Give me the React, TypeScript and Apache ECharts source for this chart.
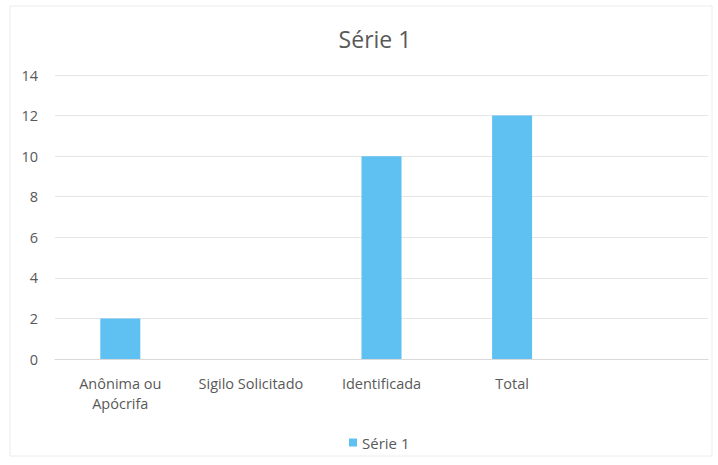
import React, { useEffect, useRef } from "react";
import * as echarts from "echarts";

const categories = ["Anônima ou\nApócrifa", "Sigilo Solicitado", "Identificada", "Total", ""];
const serieValues = [2, 0, 10, 12, null];
const seriesName = "Série 1";
const titleText = "Série 1";

export default function App() {
  const ref = useRef<HTMLDivElement>(null);
  useEffect(() => {
    const chart = echarts.init(ref.current!, undefined, { renderer: "svg" });
    const font = "'Open Sans', 'Liberation Sans', sans-serif";
    chart.setOption({
      animation: false,
      backgroundColor: "#ffffff",
      title: {
        text: titleText,
        left: 370,
        textAlign: "center",
        top: 22,
        textStyle: { fontFamily: font, fontSize: 23, fontWeight: "normal", color: "#595959" },
      },
      graphic: [
        {
          type: "rect",
          shape: { x: 10, y: 6, width: 702, height: 450 },
          style: { fill: "none", stroke: "#ececec", lineWidth: 1 },
          silent: true,
        },
      ],
      legend: {
        data: [seriesName],
        top: 430,
        left: 344,
        icon: "rect",
        itemWidth: 8,
        itemHeight: 8,
        itemGap: 5,
        textStyle: { fontFamily: font, fontSize: 15, color: "#595959" },
      },
      grid: { left: 55, right: 10, top: 75, bottom: 106, containLabel: false },
      xAxis: {
        type: "category",
        data: categories,
        axisLine: { show: true, lineStyle: { color: "#d9d9d9" } },
        axisTick: { show: false },
        axisLabel: {
          interval: 0,
          margin: 14,
          fontFamily: font,
          fontSize: 14.5,
          color: "#595959",
          lineHeight: 20,
        },
      },
      yAxis: {
        type: "value",
        min: 0,
        max: 14,
        interval: 2,
        axisLine: { show: false },
        axisTick: { show: false },
        splitLine: { lineStyle: { color: "#e6e6e6" } },
        axisLabel: { fontFamily: font, fontSize: 14.5, color: "#595959", margin: 17 },
      },
      series: [
        {
          name: seriesName,
          type: "bar",
          data: serieValues,
          barWidth: 40,
          itemStyle: { color: "#5fc0f2" },
        },
      ],
    });
    return () => chart.dispose();
  }, []);
  return (
    <div
      ref={ref}
      style={{ position: "fixed", left: 0, top: 0, width: 718, height: 465 }}
    />
  );
}
